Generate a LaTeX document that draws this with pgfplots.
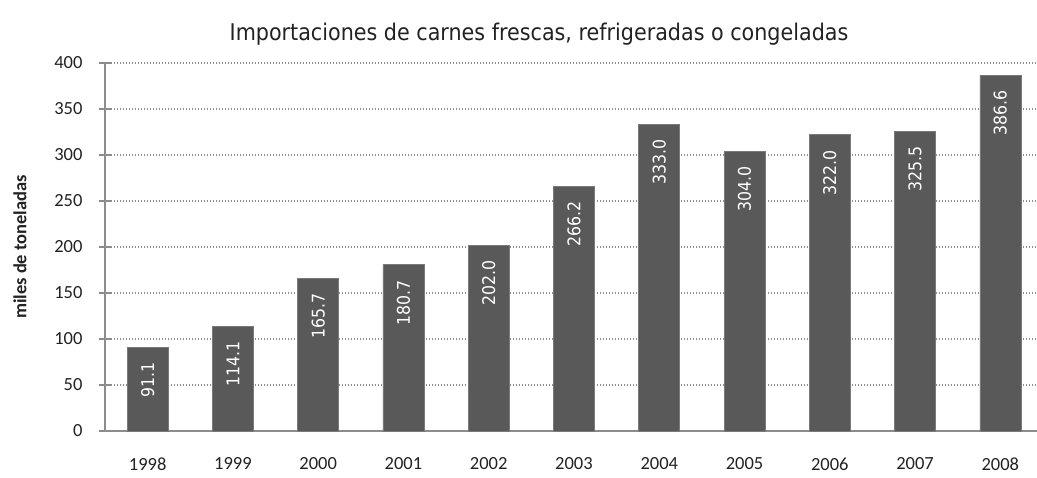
\documentclass[border=0pt]{standalone}
\usepackage{fontspec}
\setmainfont{Carlito}
\newfontfamily\tahoma{DejaVu Sans Condensed}
\usepackage{pgfplots}
\pgfplotsset{compat=1.18}
\definecolor{barc}{HTML}{595959}
\definecolor{axc}{HTML}{8C8C8C}
\definecolor{gridc}{HTML}{8F8F8F}
\definecolor{txt}{HTML}{222222}
\begin{document}
\begin{tikzpicture}
\begin{axis}[
  scale only axis,
  width=932pt, height=368pt,
  xmin=-0.5, xmax=10.43,
  ymin=0, ymax=400,
  axis x line*=bottom, axis y line*=left,
  axis line style={axc, line width=1.3pt},
  separate axis lines,
  x axis line style={-}, y axis line style={-},
  xtick={0,...,10},
  xticklabels={1998,1999,2000,2001,2002,2003,2004,2005,2006,2007,2008},
  x tick style={draw=none},
  minor xtick={-0.5,0.5,...,9.5},
  minor tick length=14pt,
  minor x tick style={axc, line width=1.3pt},
  ytick={0,50,...,400},
  major tick length=12pt,
  y tick style={axc, line width=1.3pt},
  tick align=center,
  ymajorgrids,
  grid style={gridc, line width=1.1pt, dash pattern=on 1.1pt off 1.9pt},
  tick label style={font=\fontsize{18.5}{20}\selectfont, txt},
  /pgf/number format/assume math mode=true,
  xticklabel style={yshift=-11pt},
  yticklabel style={xshift=-13pt},
  ybar, bar width=41pt,
  nodes near coords={\pgfmathprintnumber[fixed,fixed zerofill,precision=1,assume math mode=true]{\pgfplotspointmeta}\kern15pt},
  nodes near coords style={rotate=90, anchor=east, inner sep=0pt, font=\tahoma\fontsize{17.5}{20}\selectfont, white},
]
\coordinate (O) at (rel axis cs:0,0);
\addplot[fill=barc, draw=barc!80!white, line width=0.6pt] coordinates {
(0,91.1) (1,114.1) (2,165.7) (3,180.7) (4,202.0) (5,266.2) (6,333.0) (7,304.0) (8,322.0) (9,325.5) (10,386.6)};
\end{axis}
\node[font=\tahoma\fontsize{23}{26}\selectfont, txt] at ([xshift=434pt,yshift=397pt]O) {Importaciones de carnes frescas, refrigeradas o congeladas};
\node[rotate=90, font=\bfseries\fontsize{18.5}{20}\selectfont, txt] at ([xshift=-85pt,yshift=184pt]O) {miles de toneladas};
\pgfresetboundingbox
\path[use as bounding box] (O) ++(-105pt,-46pt) rectangle ++(1037pt,477pt);
\end{tikzpicture}
\end{document}
